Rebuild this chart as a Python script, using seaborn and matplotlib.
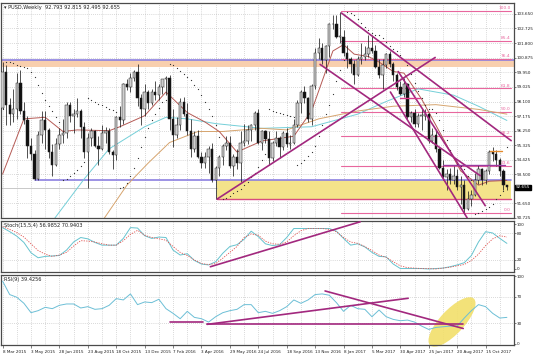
import numpy as np
import pandas as pd
import matplotlib
matplotlib.use("Agg")
import matplotlib.pyplot as plt
import matplotlib.transforms as mtransforms
from matplotlib.patches import Rectangle, Ellipse
import seaborn as sns

sns.set_theme(style="white")
plt.rcParams['font.family'] = ['DejaVu Sans']

# ---- weekly candles, 8 Mar 2015 .. 26 Nov 2017 ----
first_open = 97.7
closes = [100.0, 97.9, 97.3, 97.6, 99.3, 97.5, 96.9, 95.3, 94.8, 93.2, 96.0, 96.9, 96.3, 94.9, 94.1,
          95.4, 96.0, 96.1, 97.9, 97.2, 97.3, 97.5, 96.5, 94.9, 95.8, 96.2, 95.3, 95.1, 96.1, 96.2,
          94.9, 94.7, 97.1, 96.9, 99.2, 99.0, 99.6, 100.0, 98.3, 97.6, 98.7, 98.0, 98.7,
          98.5, 99.0, 99.5, 99.6, 97.0, 96.0, 96.6, 98.1, 97.3, 96.2, 95.1, 95.9, 94.6, 94.2, 94.6,
          95.1, 93.1, 93.9, 94.6, 95.3, 95.5, 94.0, 94.6, 94.2, 95.5, 95.6, 96.3, 96.6, 97.4, 95.5,
          96.2, 95.7, 94.5, 95.5, 95.8, 95.2, 96.1, 95.4, 95.5, 96.6, 98.0, 98.7, 98.3, 97.0, 99.1,
          101.2, 101.5, 100.7, 101.6, 103.0, 103.0, 102.2,
          102.2, 101.2, 100.8, 100.5, 99.8, 100.8, 100.9, 101.1, 101.5, 101.3, 100.3, 99.8, 100.4,
          101.1, 100.5, 99.8, 99.0, 98.6, 99.2, 97.1, 97.4, 96.7, 97.2, 97.2, 97.3, 95.6, 96.0, 95.1,
          93.9, 93.3, 93.5, 93.1, 93.4, 92.7, 92.8, 91.3, 91.9, 92.2, 93.1, 93.8, 93.1, 93.7, 94.9,
          94.8, 94.4, 93.7, 92.8, 92.655]
highs = [100.6, 100.4, 98.3, 98.9, 99.9, 100.1, 98.1, 97.2, 95.8, 95.0, 96.2, 97.5, 97.5, 96.4, 95.4,
         95.8, 96.4, 97.0, 98.1, 98.1, 97.6, 98.3, 97.6, 96.8, 96.1, 96.4, 96.3, 95.9, 96.6, 96.5,
         96.4, 95.0, 97.2, 97.8, 99.3, 99.5, 99.9, 100.1, 100.5, 98.6, 99.2, 98.8, 98.9,
         99.4, 99.2, 99.5, 99.7, 99.8, 97.6, 97.1, 98.3, 98.4, 98.0, 97.0, 96.2, 96.3, 94.9, 94.9,
         95.3, 95.5, 94.0, 94.7, 95.4, 95.9, 95.9, 94.8, 95.1, 96.2, 96.7, 96.6, 96.7, 97.5, 97.6,
         96.3, 96.3, 96.2, 95.6, 96.2, 95.9, 96.2, 96.4, 96.0, 97.0, 98.2, 98.8, 99.1, 98.4, 99.2,
         101.5, 102.1, 101.8, 101.7, 103.1, 103.6, 103.6,
         103.8, 102.6, 101.7, 100.9, 100.7, 101.0, 101.8, 101.6, 102.3, 102.3, 101.7, 100.8, 100.8,
         101.2, 101.3, 100.6, 99.9, 99.4, 99.6, 99.3, 97.5, 97.6, 97.4, 97.6, 97.6, 97.4, 96.4, 96.3,
         95.2, 94.4, 93.8, 93.9, 94.0, 93.8, 93.4, 93.1, 92.4, 92.5, 93.6, 94.1, 93.9, 93.8, 95.0,
         95.2, 95.0, 94.5, 93.8, 92.815]
lows = [97.6, 96.6, 96.6, 96.8, 97.0, 97.3, 96.7, 94.5, 94.4, 93.1, 93.1, 95.5, 95.1, 94.5, 93.4,
        94.0, 95.1, 95.5, 95.8, 96.8, 96.1, 97.1, 95.8, 94.5, 92.6, 95.3, 95.2, 94.1, 95.0, 95.5,
        94.8, 93.8, 94.4, 96.5, 96.7, 98.8, 98.7, 99.4, 97.8, 96.6, 97.2, 97.6, 97.9,
        98.2, 98.2, 98.6, 98.5, 96.3, 95.2, 95.8, 96.3, 97.2, 96.0, 94.6, 94.9, 94.5, 93.9, 93.9,
        93.6, 93.0, 91.9, 93.4, 94.1, 95.0, 93.9, 93.4, 93.8, 93.0, 95.3, 95.4, 95.6, 96.3, 95.4,
        95.0, 95.5, 94.1, 94.3, 95.3, 94.5, 95.0, 95.2, 95.1, 95.4, 96.5, 97.4, 98.0, 96.8, 96.6,
        98.9, 100.8, 100.5, 99.9, 100.9, 102.7, 102.1,
        101.8, 101.0, 100.2, 99.9, 99.2, 99.7, 100.5, 100.7, 100.9, 101.2, 100.2, 99.6, 98.9,
        100.2, 100.3, 99.4, 98.8, 98.5, 98.4, 96.9, 96.8, 96.5, 96.5, 96.3, 96.9, 95.5, 95.5, 94.9,
        93.8, 93.1, 92.5, 92.9, 92.9, 92.5, 91.6, 91.0, 91.2, 91.5, 92.1, 92.9, 92.8, 92.9, 93.5,
        94.3, 94.0, 93.4, 92.5, 92.495]
opens = [first_open] + closes[:-1]

date_labels = ["8 Mar 2015", "3 May 2015", "28 Jun 2015", "23 Aug 2015", "18 Oct 2015",
               "13 Dec 2015", "7 Feb 2016", "3 Apr 2016", "29 May 2016", "24 Jul 2016",
               "18 Sep 2016", "13 Nov 2016", "8 Jan 2017", "5 Mar 2017", "30 Apr 2017",
               "25 Jun 2017", "20 Aug 2017", "15 Oct 2017"]
price_ticks = [103.650, 102.725, 101.800, 100.875, 99.950, 99.025, 98.100, 97.175,
               96.250, 95.325, 94.425, 93.500, 91.650, 90.725]

# moving averages (bar index, price)
ma_fast_bars = [0, 6, 12, 17, 21, 30, 33, 40, 46, 52, 57, 61, 66, 70, 73, 82, 87, 90, 93, 96,
                99, 103, 106, 110, 113, 118, 122, 129, 134, 137, 142]
ma_fast = [93.5, 97.0, 97.1, 96.2, 96.3, 96.25, 96.5, 97.2, 98.7, 97.4, 96.8, 96.2, 94.9, 95.3,
           95.6, 95.9, 97.5, 99.4, 101.3, 101.7, 101.1, 100.95, 100.6, 100.0, 99.9, 98.25, 96.6,
           93.7, 92.8, 93.05, 93.1]
ma_mid_bars = [28, 35, 41, 47, 55, 62, 73, 80, 89, 100, 110, 122, 134, 142]
ma_mid = [90.5, 92.8, 94.2, 95.5, 96.2, 96.2, 96.4, 96.3, 97.0, 97.5, 97.8, 97.9, 97.6, 97.3]
ma_slow_bars = [14, 23, 30, 40, 46, 52, 60, 73, 87, 100, 108, 117, 127, 134, 142]
ma_slow = [90.5, 93.2, 95.1, 96.5, 97.1, 97.0, 96.7, 96.4, 96.5, 97.3, 98.1, 98.9, 98.5, 97.8, 96.9]

# oscillators every second bar
osc_bars = list(range(0, 143, 2))
stoch_k = [92, 83, 73, 59, 36, 25, 28, 29, 30, 42, 60, 70, 67, 59, 53, 53, 53, 68, 92, 91,
           74, 68, 71, 70, 42, 31, 34, 19, 11, 9, 16, 35, 50, 54, 66, 84, 72, 56, 52, 54,
           70, 90, 90, 90, 90, 90, 90, 84, 68, 53, 56, 49, 37, 28, 27, 11, 1, 1, 1, 1,
           0, 1, 2, 5, 9, 14, 30, 60, 83, 80, 68, 57]
stoch_d = [94, 88, 81, 71, 56, 41, 33, 28, 31, 37, 51, 63, 62, 60, 56, 53, 53, 63, 77, 86,
           75, 70, 67, 64, 50, 37, 30, 20, 12, 10, 12, 24, 37, 50, 70, 78, 75, 62, 56, 55,
           60, 74, 85, 90, 90, 90, 88, 83, 70, 60, 57, 50, 41, 31, 26, 16, 7, 3, 2, 1,
           1, 0, 2, 4, 7, 10, 19, 33, 52, 67, 74, 71]
rsi = [93, 73, 69, 60, 46, 49, 54, 52, 57, 59, 59, 53, 55, 51, 52, 57, 67, 65, 74, 58,
       62, 61, 66, 52, 45, 37, 48, 39, 37, 32, 40, 46, 49, 51, 58, 58, 46, 48, 45, 49,
       55, 65, 60, 65, 73, 74, 72, 61, 48, 57, 52, 51, 40, 50, 40, 36, 34, 35, 32, 26,
       21, 24, 25, 26, 26, 38, 49, 58, 55, 45, 38, 39]

# fibonacci retracement of the Jan 2017 high / Sep 2017 low
fib_high, fib_low = 103.82, 91.01
fib_levels = [100.0, 85.4, 76.4, 61.8, 50.0, 38.2, 23.6, 0.0]


def parabolic_sar(h, l, step=0.02, mx=0.2):
    n = len(h)
    sar = [l[0]]
    up, af, ep = True, step, h[0]
    for i in range(1, n):
        s = sar[-1] + af * (ep - sar[-1])
        if up:
            s = min(s, l[i - 1], l[max(i - 2, 0)])
            if l[i] < s:
                up, s, ep, af = False, ep, l[i], step
            elif h[i] > ep:
                ep, af = h[i], min(af + step, mx)
        else:
            s = max(s, h[i - 1], h[max(i - 2, 0)])
            if h[i] > s:
                up, s, ep, af = True, ep, h[i], step
            elif l[i] < ep:
                ep, af = l[i], min(af + step, mx)
        sar.append(s)
    return sar


W, H = 536, 358
fig = plt.figure(figsize=(W / 100, H / 100), dpi=100)
fig.patch.set_facecolor("white")


def add_panel(top, bottom, left=1, right=514):
    a = fig.add_axes([left / W, 1 - bottom / H, (right - left) / W, (bottom - top) / H])
    a.set_facecolor("white")
    for s in a.spines.values():
        s.set_color("#4a4a4a")
        s.set_linewidth(0.9)
    return a


ax = add_panel(3, 218)
ax_st = add_panel(221, 272)
ax_rsi = add_panel(275, 345)

n = len(closes)
xs = np.arange(n)
XMIN, XMAX = -0.45, 144.0
grid_kw = dict(color="#b5b5b5", lw=0.5, ls=(0, (1, 2)), zorder=0)

for a in (ax, ax_st, ax_rsi):
    a.set_xlim(XMIN, XMAX)
    for g in range(0, 145, 4):
        a.axvline(g, **grid_kw)
    a.yaxis.tick_right()
    a.tick_params(axis="y", labelsize=3.0, length=1.5, width=0.4, pad=0.6, colors="#202020",
                  right=True, left=False)
    a.tick_params(axis="x", labelbottom=False, length=0)

# ---- main price panel ----
ax.set_ylim(90.72, 104.34)
ax.set_yticks(price_ticks)
ax.set_yticklabels([f"{p:.3f}" for p in price_ticks])
for p in price_ticks:
    ax.axhline(p, **grid_kw)

# zones and levels
ax.axhspan(100.30, 100.70, color="#f8cfae", zorder=0.5, lw=0)
ax.axhline(100.73, color="#8c80e0", lw=1.2, zorder=1)
ax.plot([-0.45, 60.4], [92.6, 92.6], color="#c8c8c8", lw=0.7, zorder=1)
ax.add_patch(Rectangle((60.4, 91.92), 143.2 - 60.4, 93.1 - 91.92, facecolor="#f4e38a",
                       edgecolor="none", zorder=0.6))
ax.plot([9.2, 143.2], [93.1, 93.1], color="#8c80e0", lw=1.2, zorder=1)
ax.plot([60.4, 143.2], [91.92, 91.92], color="#d84a80", lw=1.0, zorder=1)

fib_color = "#e8679e"
for lv in fib_levels:
    y = fib_low + (fib_high - fib_low) * lv / 100
    ax.plot([95.4, 143.2], [y, y], color=fib_color, lw=0.8, zorder=1)
    ax.text(143.0, y + 0.06, f"{lv:.1f}", color=fib_color, fontsize=3.2, ha="right",
            va="bottom", zorder=6)

# candles
body_w = 0.66
for i in range(n):
    o, h, l, c = opens[i], highs[i], lows[i], closes[i]
    h = max(h, o, c)
    l = min(l, o, c)
    ax.vlines(i, l, h, color="#202020", lw=0.55, zorder=3)
    lo, hi = min(o, c), max(o, c)
    hgt = max(hi - lo, 0.04)
    face = "#cfcfcf" if c >= o else "#111111"
    ax.add_patch(Rectangle((i - body_w / 2, lo), body_w, hgt, facecolor=face,
                           edgecolor="#202020", lw=0.35, zorder=4))

# moving averages
sns.lineplot(x=ma_slow_bars, y=ma_slow, ax=ax, color="#74cfd8", lw=0.7, zorder=2)
sns.lineplot(x=ma_mid_bars, y=ma_mid, ax=ax, color="#d6a46e", lw=0.7, zorder=2)
sns.lineplot(x=ma_fast_bars, y=ma_fast, ax=ax, color="#b55a55", lw=0.7, zorder=2)

# parabolic SAR
sar = parabolic_sar(highs, lows)
ax.scatter(xs, sar, s=0.8, color="#303030", zorder=5, linewidths=0)

# trend lines
tl = "#a2287e"
for (x0, y0), (x1, y1) in [((60.4, 91.92), (121.8, 100.89)),
                           ((95.4, 103.71), (143.2, 95.62)),
                           ((89.4, 100.45), (134.5, 93.4)),
                           ((109.2, 98.7), (130.8, 90.73)),
                           ((111.4, 100.0), (135.9, 91.5))]:
    ax.plot([x0, x1], [y0, y1], color=tl, lw=1.2, zorder=5, solid_capstyle="round")
ax.plot([112, 117.6], [98.35, 98.35], color="#d83c8c", lw=1.0, zorder=5)
ax.plot([124, 141.5], [94.1, 94.1], color="#9a3aa0", lw=1.0, zorder=5)
ax.plot([137.3, 140.7], [94.97, 94.97], color="#e38a2c", lw=1.0, zorder=5)

ax.text(0.006, 0.992, "\u25be PUSD,Weekly  92.793 92.815 92.495 92.655", transform=ax.transAxes,
        fontsize=3.6, color="#202020", ha="left", va="top", zorder=7)
trans = mtransforms.blended_transform_factory(ax.transAxes, ax.transData)
ax.text(1.003, 92.655, "92.655", transform=trans, fontsize=3.0, color="white", ha="left",
        va="center", zorder=8, clip_on=False,
        bbox=dict(boxstyle="square,pad=0.15", facecolor="black", edgecolor="black"))

# ---- stochastic panel ----
ax_st.set_ylim(-6.7, 106.7)
ax_st.set_yticks([100, 80, 20, 0])
ax_st.set_yticklabels(["100", "80", "20", "0"])
for lv in (80, 20):
    ax_st.axhline(lv, **grid_kw)
sns.lineplot(x=osc_bars, y=stoch_k, ax=ax_st, color="#66c3cf", lw=0.7, zorder=3)
sns.lineplot(x=osc_bars, y=stoch_d, ax=ax_st, color="#e0524f", lw=0.6, ls=(0, (1.5, 1.5)),
             zorder=3)
ax_st.plot([58.5, 100.7], [5, 105], color=tl, lw=1.2, zorder=4)
ax_st.text(0.006, 0.97, "Stoch(15,5,4) 56.9852 70.9403", transform=ax_st.transAxes,
           fontsize=3.6, color="#202020", ha="left", va="top")

# ---- RSI panel ----
ax_rsi.set_ylim(-2.2, 102.2)
ax_rsi.set_yticks([100, 70, 30, 0])
ax_rsi.set_yticklabels(["100", "70", "30", "0"])
for lv in (70, 30):
    ax_rsi.axhline(lv, **grid_kw)
ax_rsi.add_artist(Ellipse((452, H - 322), 64, 24, angle=47, facecolor="#f2df6a",
                          edgecolor="none", alpha=0.9, transform=mtransforms.IdentityTransform(),
                          zorder=1, clip_on=False))
sns.lineplot(x=osc_bars, y=rsi, ax=ax_rsi, color="#6cbfd6", lw=0.7, zorder=3)
for (x0, y0), (x1, y1) in [((47.2, 32.3), (56.5, 32.3)),
                           ((57.6, 28.6), (129.7, 28.6)),
                           ((57.6, 28.6), (114.2, 67.5)),
                           ((90.8, 78.4), (129.7, 22.4))]:
    ax_rsi.plot([x0, x1], [y0, y1], color=tl, lw=1.2, zorder=4)
ax_rsi.text(0.006, 0.97, "RSI(9) 39.4256", transform=ax_rsi.transAxes,
            fontsize=3.6, color="#202020", ha="left", va="top")

ax_rsi.set_xticks(range(0, 8 * len(date_labels), 8))
ax_rsi.set_xticklabels(date_labels)
ax_rsi.tick_params(axis="x", labelbottom=True, labelsize=3.0, length=2, width=0.4, pad=1.5,
                   colors="#202020", bottom=True)
for lab in ax_rsi.get_xticklabels():
    lab.set_ha("left")

for a in (ax, ax_st, ax_rsi):
    a.set_xlabel("")
    a.set_ylabel("")

fig.savefig("out.png", dpi=100, facecolor="white")
plt.close(fig)
